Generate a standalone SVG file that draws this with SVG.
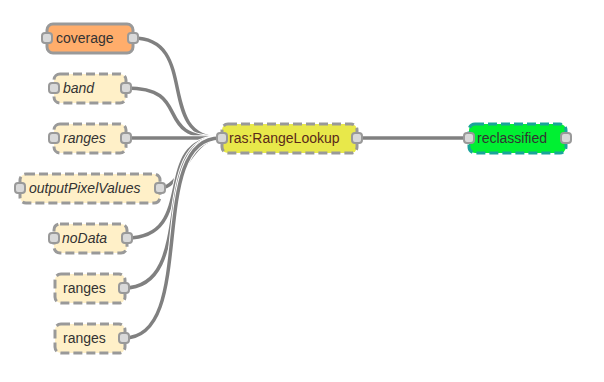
<svg xmlns="http://www.w3.org/2000/svg" width="604" height="382" viewBox="0 0 604 382">
<style>
.n rect.b{stroke:#999;stroke-width:3}
.d{stroke-dasharray:9,4}
.cream{fill:#fff0c8}
.port{fill:#d9d9d9;stroke:#999;stroke-width:2}
text{font-family:"Liberation Sans",Arial,sans-serif;font-size:14px;fill:#333}
.i{font-style:italic}
.casing{fill:none;stroke:#fff;stroke-width:5.5}
.wire{fill:none;stroke:#808080;stroke-width:3.5}
</style>
<rect width="604" height="382" fill="#fff"/>
<g id="connectors">
<path class="casing" d="M133 38 C200 38 155 138 220 138"/><path class="wire" d="M133 38 C200 38 155 138 220 138"/>
<path class="casing" d="M126 88 C195 88 150 138 220 138"/><path class="wire" d="M126 88 C195 88 150 138 220 138"/>
<path class="casing" d="M126 138 L220 138"/><path class="wire" d="M126 138 L220 138"/>
<path class="casing" d="M160 188 C182 188 190 138 220 138"/><path class="wire" d="M160 188 C182 188 190 138 220 138"/>
<path class="casing" d="M127 238 C200 238 150 138 220 138"/><path class="wire" d="M127 238 C200 238 150 138 220 138"/>
<path class="casing" d="M124 288 C199 288 148 138 220 138"/><path class="wire" d="M124 288 C199 288 148 138 220 138"/>
<path class="casing" d="M124 338 C199 338 145 138 220 138"/><path class="wire" d="M124 338 C199 338 145 138 220 138"/>
<path class="wire" d="M357 138 L469 138"/>
</g>
<g id="coverage" class="n"><rect class="b" x="47" y="24" width="86" height="29" rx="6" fill="#ffad6b"/><text x="56" y="43">coverage</text><rect class="port" x="42" y="33" width="10" height="10" rx="3"/><rect class="port" x="128" y="33" width="10" height="10" rx="3"/></g>
<g id="band" class="n"><rect class="b d cream" x="54" y="74" width="72" height="29" rx="6"/><text class="i" x="63" y="93">band</text><rect class="port" x="49" y="83" width="10" height="10" rx="3"/><rect class="port" x="121" y="83" width="10" height="10" rx="3"/></g>
<g id="ranges1" class="n"><rect class="b d cream" x="54" y="124" width="72" height="29" rx="6"/><text class="i" x="63" y="143">ranges</text><rect class="port" x="49" y="133" width="10" height="10" rx="3"/><rect class="port" x="121" y="133" width="10" height="10" rx="3"/></g>
<g id="outputPixelValues" class="n"><rect class="b d cream" x="20" y="174" width="140" height="29" rx="6"/><text class="i" x="29" y="193">outputPixelValues</text><rect class="port" x="15" y="183" width="10" height="10" rx="3"/><rect class="port" x="155" y="183" width="10" height="10" rx="3"/></g>
<g id="noData" class="n"><rect class="b d cream" x="54" y="224" width="73" height="29" rx="6"/><text class="i" x="62" y="243">noData</text><rect class="port" x="49" y="233" width="10" height="10" rx="3"/><rect class="port" x="122" y="233" width="10" height="10" rx="3"/></g>
<g id="ranges2" class="n"><rect class="b d cream" x="55" y="274" width="70" height="29" rx="6"/><text x="63" y="293">ranges</text><rect class="port" x="119" y="283" width="10" height="10" rx="3"/></g>
<g id="ranges3" class="n"><rect class="b d cream" x="55" y="324" width="70" height="29" rx="6"/><text x="63" y="343">ranges</text><rect class="port" x="119" y="333" width="10" height="10" rx="3"/></g>
<g id="ras_RangeLookup" class="n"><rect class="b d" x="222" y="124" width="135" height="29" rx="6" fill="#e8e84a"/><text x="229" y="143" style="fill:#5a2a1a">ras:RangeLookup</text><rect class="port" x="217" y="133" width="10" height="10" rx="3"/><rect class="port" x="352" y="133" width="10" height="10" rx="3"/></g>
<g id="reclassified" class="n"><rect class="b d" x="469" y="124" width="97" height="29" rx="6" fill="#00f032" style="stroke:#1aa49a"/><text x="477" y="143">reclassified</text><rect class="port" x="464" y="133" width="10" height="10" rx="3"/><rect class="port" x="561" y="133" width="10" height="10" rx="3"/></g>
</svg>
